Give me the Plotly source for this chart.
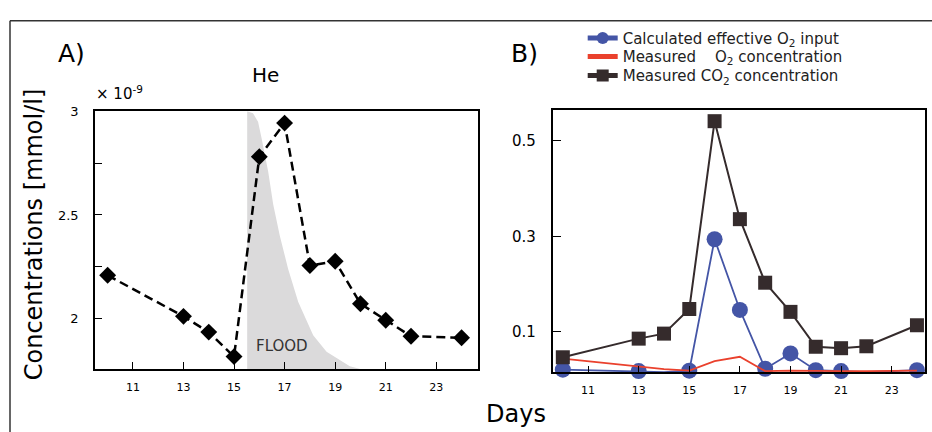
import plotly.graph_objects as go

W, H = 932, 432

# ---------------- data ----------------
# Panel A: He concentration (x 10^-9 mmol/l)
days_he = [10, 13, 14, 15, 16, 17, 18, 19, 20, 21, 22, 24]
he_conc = [2.209, 2.011, 1.935, 1.817, 2.781, 2.943, 2.256, 2.277, 2.072, 1.992, 1.915, 1.908]

# Flood hydrograph outline
flood_days = [15.52, 15.52, 15.75, 15.95, 16.09, 16.35, 16.55, 16.81, 17.14, 17.54, 18.13, 18.66, 19.58, 20.0]
flood_level = [1.757, 3.0, 2.99, 2.95, 2.87, 2.71, 2.55, 2.40, 2.24, 2.08, 1.92, 1.84, 1.77, 1.757]

# Panel B
days_b = [10, 13, 14, 15, 16, 17, 18, 19, 20, 21, 22, 24]
o2_input = [0.021, 0.018, 0.016, 0.019, 0.294, 0.146, 0.023, 0.055, 0.020, 0.018, 0.016, 0.020]
o2_meas = [0.044, 0.027, 0.022, 0.019, 0.039, 0.048, 0.018, 0.019, 0.018, 0.018, 0.018, 0.019]
co2_meas = [0.047, 0.086, 0.0965, 0.148, 0.541, 0.336, 0.203, 0.142, 0.069, 0.066, 0.070, 0.114]

x_ticks = [11, 13, 15, 17, 19, 21, 23]
a_yticks = [2, 2.5, 3]
a_yticktext = ["2", "2.5", "3"]
a_yminor = [2.25, 2.75]
b_yticks = [0.1, 0.3, 0.5]
b_yticktext = ["0.1", "0.3", "0.5"]

FONT = "DejaVu Sans"
BLUE = "#4455a6"
RED = "#ea412d"
DARK = "#352b2c"


def px_x(p):
    return p / W


def px_y(p):
    return 1 - p / H


fig = go.Figure()

# Flood shading
fig.add_trace(go.Scatter(
    x=flood_days, y=flood_level, xaxis="x", yaxis="y",
    fill="toself", fillcolor="#dbdadb", line=dict(width=0),
    mode="lines", hoverinfo="skip", showlegend=False,
))

# He series
fig.add_trace(go.Scatter(
    x=days_he, y=he_conc, xaxis="x", yaxis="y",
    mode="lines+markers",
    line=dict(color="black", width=2.5, dash="9px,5px"),
    marker=dict(symbol="diamond", size=13, color="black"),
    showlegend=False, cliponaxis=False,
))

# Panel B series
fig.add_trace(go.Scatter(
    x=days_b, y=o2_input, xaxis="x2", yaxis="y2",
    mode="lines+markers", name="Calculated effective O<sub>2</sub> input",
    line=dict(color=BLUE, width=1.8),
    marker=dict(symbol="circle", size=16, color=BLUE),
    cliponaxis=False, legend="legend",
))
fig.add_trace(go.Scatter(
    x=days_b, y=o2_meas, xaxis="x2", yaxis="y2",
    mode="lines", name="Measured\u00a0\u00a0\u00a0\u00a0O<sub>2</sub> concentration",
    line=dict(color=RED, width=1.8),
    cliponaxis=False, legend="legend2",
))
fig.add_trace(go.Scatter(
    x=days_b, y=co2_meas, xaxis="x2", yaxis="y2",
    mode="lines+markers", name="Measured CO<sub>2</sub> concentration",
    line=dict(color=DARK, width=2),
    marker=dict(symbol="square", size=14, color=DARK),
    cliponaxis=False, legend="legend3",
))

axis_common = dict(
    showgrid=False, zeroline=False, showline=True, linecolor="black",
    linewidth=1.6, mirror=True, ticks="inside", tickcolor="black",
)


def leg(row_y):
    return dict(
        x=px_x(582.7), y=px_y(row_y), xanchor="left", yanchor="middle",
        bgcolor="rgba(0,0,0,0)", borderwidth=0,
        font=dict(family=FONT, size=15, color="#222"),
        itemsizing="constant",
    )


fig.update_layout(
    width=W, height=H,
    margin=dict(l=0, r=0, t=0, b=0),
    paper_bgcolor="white", plot_bgcolor="white",
    font=dict(family=FONT, color="black"),
    xaxis=dict(axis_common, domain=[px_x(95), px_x(478)], range=[9.5, 24.65],
               tickvals=x_ticks, ticklen=7, tickwidth=1.2,
               tickfont=dict(size=11), ticklabelstandoff=7, anchor="y"),
    yaxis=dict(axis_common, domain=[px_y(368), px_y(106)], range=[1.757, 3.0],
               tickvals=a_yticks, ticktext=a_yticktext, ticklen=7, tickwidth=1.2,
               minor=dict(tickvals=a_yminor, ticks="inside", ticklen=7, tickwidth=1.2,
                          tickcolor="black", showgrid=False),
               tickfont=dict(size=13), ticklabelstandoff=12, anchor="x"),
    xaxis2=dict(axis_common, domain=[px_x(552.7), px_x(925.3)], range=[9.6, 24.33],
                tickvals=x_ticks, ticklen=6, tickwidth=1.2,
                tickfont=dict(size=11), ticklabelstandoff=7, anchor="y2"),
    yaxis2=dict(axis_common, domain=[px_y(371), px_y(104.7)], range=[0.0162, 0.5644],
                tickvals=b_yticks, ticktext=b_yticktext, ticklen=8, tickwidth=1.2,
                tickfont=dict(size=15), ticklabelstandoff=12, anchor="x2"),
    legend=leg(31.7),
    legend2=leg(50.5),
    legend3=leg(70),
    showlegend=True,
)

annotations = [
    dict(text="A)", x=px_x(71.7), y=px_y(47), font=dict(size=25)),
    dict(text="B)", x=px_x(524), y=px_y(47), font=dict(size=25)),
    dict(text="He", x=px_x(265.5), y=px_y(69), font=dict(size=20)),
    dict(text="× 10<sup>-9</sup>", x=px_x(94), y=px_y(100), xanchor="left", yanchor="bottom",
         font=dict(size=15)),
    dict(text="Concentrations [mmol/l]", x=px_x(34), y=px_y(231), textangle=-90,
         font=dict(size=24)),
    dict(text="Days", x=px_x(516), y=px_y(414), font=dict(size=24)),
]
for a in annotations:
    a.setdefault("xanchor", "center")
    a.setdefault("yanchor", "middle")
    a.update(xref="paper", yref="paper", showarrow=False)
    a["font"] = dict(family=FONT, color="black", **a["font"])
fig.update_layout(annotations=annotations)

# FLOOD label in data coordinates
fig.add_annotation(text="FLOOD", x=16.88, y=1.868, xref="x", yref="y", showarrow=False,
                   font=dict(family=FONT, size=15, color="#333"))

# Outer frame (top and left edges)
fig.add_shape(type="line", xref="paper", yref="paper", x0=px_x(10), x1=1.0,
              y0=px_y(14), y1=px_y(14), line=dict(color="#333", width=1.5))
fig.add_shape(type="line", xref="paper", yref="paper", x0=px_x(10), x1=px_x(10),
              y0=px_y(14), y1=0, line=dict(color="#333", width=1.5))

fig.write_html("out.html", config={"displayModeBar": False},
               post_script="document.body.style.margin='0px';")
